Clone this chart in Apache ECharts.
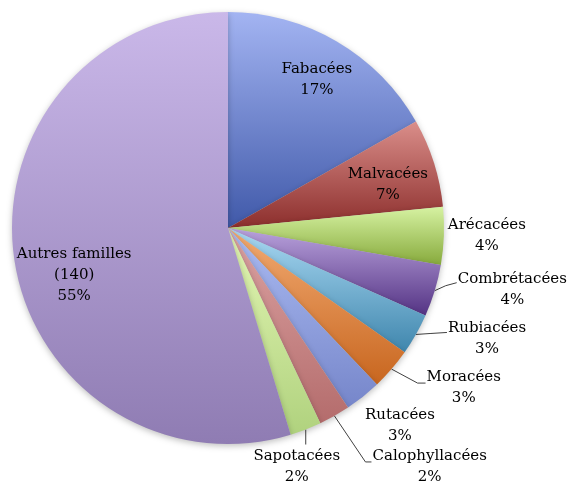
<!DOCTYPE html>
<html>
<head>
<meta charset="utf-8">
<script src="https://cdn.jsdelivr.net/npm/echarts@6/dist/echarts.min.js"></script>
<style>
  html,body{margin:0;padding:0;background:#fff;}
  #chart{width:569px;height:484px;}
</style>
</head>
<body>
<div id="chart"></div>
<script>
// familles et effectifs (Autres familles = 140)
var familles = ['Fabacées','Malvacées','Arécacées','Combrétacées','Rubiacées','Moracées','Rutacées','Calophyllacées','Sapotacées','Autres familles'];
var effectifs = [43, 17, 11, 10, 8, 8, 7, 6, 6, 140];
// couleurs dégradé haut / bas
var couleursHaut = ['#a3b4f2','#da8e8a','#d6f2a2','#b9a2dc','#aad9f3','#f2ab73','#abbbf2','#dca3a3','#e3f6b4','#cab8e9'];
var couleursBas  = ['#4059a9','#8c2e2c','#87aa3c','#543384','#3f86ad','#c8661f','#7686ca','#b46c6c','#b0d27e','#8f7cb3'];

// labels à l'intérieur
var interieurs = {'Fabacées':[33,-52], 'Malvacées':[54,-10], 'Autres familles':[-44,31]};
// labels extérieurs : position du texte et ligne par rapport au bord de la part
var exterieurs = {
  'Arécacées':      {x:4,  y:0,  align:'left',   line:null},
  'Combrétacées':   {x:23, y:-1, align:'left',   line:[[11,-5],[22,-8]]},
  'Rubiacées':      {x:32, y:4,  align:'left',   line:[[15,-1],[31,-2]]},
  'Moracées':       {x:35, y:19, align:'left',   line:[[26,14],[34,14]]},
  'Rutacées':       {x:37, y:29, align:'center', line:null},
  'Calophyllacées': {x:38, y:51, align:'left',   line:[[31,46],[37,46]]},
  'Sapotacées':     {x:-9, y:37, align:'center', line:[[0,15]]}
};

var data = familles.map(function(nom, i){
  var item = {
    name: nom,
    value: effectifs[i],
    itemStyle: {
      color: {
        type:'linear', x:0, y:0, x2:0, y2:1,
        colorStops:[{offset:0,color:couleursHaut[i]},{offset:1,color:couleursBas[i]}]
      }
    }
  };
  if (interieurs[nom]) {
    item.label = {position:'inside', offset: interieurs[nom]};
  }
  return item;
});

var chart = echarts.init(document.getElementById('chart'));
chart.setOption({
  animation:false,
  series:[{
    type:'pie',
    center:[228,228],
    radius:216,
    startAngle:90,
    clockwise:true,
    avoidLabelOverlap:false,
    percentPrecision:0,
    itemStyle:{borderWidth:0, shadowBlur:6, shadowColor:'rgba(0,0,0,0.25)', shadowOffsetY:2},
    label:{
      show:true,
      position:'outside',
      fontFamily:'DejaVu Serif',
      fontSize:15,
      color:'#000',
      lineHeight:21,
      formatter:function(p){
        if (p.name === 'Autres familles') {
          return '{t|' + p.name + '}\n{t|(' + p.value + ')}\n{t|' + p.percent + '%}';
        }
        return '{t|' + p.name + '}\n{t|' + p.percent + '%}';
      },
      rich:{
        t:{align:'center', fontFamily:'DejaVu Serif', fontSize:15, lineHeight:21, color:'#000'}
      }
    },
    labelLine:{show:true, length:10, length2:10, lineStyle:{color:'#404040', width:1}},
    labelLayout:function(params){
      var nom = familles[params.dataIndex];
      var cfg = exterieurs[nom];
      if (!cfg || !params.labelLinePoints) return {};
      var e = params.labelLinePoints[0];
      var pts = [[e[0], e[1]]];
      if (cfg.line) {
        cfg.line.forEach(function(d){ pts.push([e[0]+d[0], e[1]+d[1]]); });
      } else {
        pts.push([e[0], e[1]]);
      }
      while (pts.length < 3) pts.push(pts[pts.length-1]);
      return {
        x: e[0] + cfg.x,
        y: e[1] + cfg.y,
        align: cfg.align,
        verticalAlign: 'middle',
        labelLinePoints: pts
      };
    },
    data:data
  }]
});
</script>
</body>
</html>
